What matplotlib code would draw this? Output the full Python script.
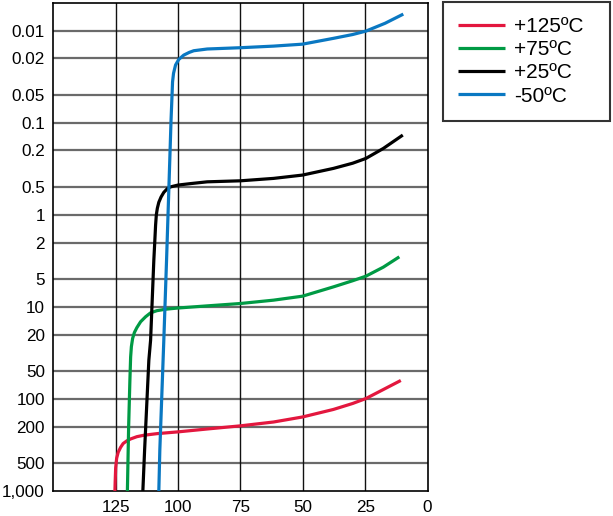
import matplotlib
matplotlib.use("Agg")
import matplotlib.pyplot as plt
from matplotlib.ticker import NullLocator

plt.rcParams['font.family'] = ['Liberation Sans', 'DejaVu Sans']

# ---- data (temperature in degC, value on log axis) ----
red_x = [125.3, 125.2, 125.0, 124.6, 124.0, 123.0, 122.0, 120.5, 119.0, 116.5, 113.7, 108.3, 100.1, 88.3, 75.0, 61.7, 50.1, 37.7, 30.0, 24.7, 17.7, 10.7]
red_y = [1000, 800, 560, 440, 380, 335, 305, 285, 272, 257, 248, 238, 228, 212, 196, 178, 157, 130, 112, 99, 79, 63]

green_x = [120.3, 119.8, 119.3, 119.0, 118.7, 118.2, 117.5, 116.5, 115.0, 113.0, 111.0, 108.5, 105.0, 100.3, 88.3, 75.0, 61.7, 50.1, 37.7, 30.0, 24.7, 17.7, 11.3]
green_y = [1000, 200, 63, 35, 27, 22, 19, 16.8, 14.5, 12.8, 11.6, 11.0, 10.6, 10.3, 9.75, 9.19, 8.45, 7.65, 6.06, 5.2, 4.64, 3.7, 2.86]

black_x = [114.1, 113.4, 111.7, 111.0, 109.7, 109.3, 109.0, 108.7, 108.3, 107.7, 106.8, 105.7, 104.3, 103.0, 100.0, 95.0, 88.3, 75.0, 61.7, 50.1, 37.7, 30.0, 24.7, 17.7, 9.9]
black_y = [1000, 360, 38, 23, 3.1, 1.9, 1.3, 1.0, 0.85, 0.73, 0.64, 0.57, 0.52, 0.497, 0.475, 0.458, 0.438, 0.427, 0.402, 0.370, 0.313, 0.275, 0.244, 0.19, 0.136]

blue_x = [107.7, 107.3, 105.7, 104.6, 103.3, 102.8, 102.4, 102.2, 101.8, 101.0, 99.7, 97.7, 95.5, 93.7, 88.3, 75.0, 61.7, 50.1, 37.7, 30.0, 24.7, 17.0, 9.7]
blue_y = [1000, 360, 23, 3.1, 0.25, 0.093, 0.05, 0.036, 0.029, 0.0236, 0.0205, 0.0184, 0.0172, 0.0165, 0.0158, 0.0153, 0.0147, 0.0140, 0.0121, 0.0110, 0.0101, 0.0083, 0.0066]

series_labels = ['+125ºC', '+75ºC', '+25ºC', '-50ºC']
series_colors = ['#E3173E', '#009A44', '#000000', '#0A78C2']

x_ticks = [125, 100, 75, 50, 25, 0]
y_ticks = [0.01, 0.02, 0.05, 0.1, 0.2, 0.5, 1, 2, 5, 10, 20, 50, 100, 200, 500, 1000]
y_tick_labels = ['0.01', '0.02', '0.05', '0.1', '0.2', '0.5', '1', '2', '5', '10', '20', '50', '100', '200', '500', '1,000']

W, H = 613, 516
fig = plt.figure(figsize=(W / 100, H / 100), dpi=100)
ax = fig.add_axes([53.3 / W, 1 - 491 / H, (427.5 - 53.3) / W, (491 - 3) / H])

ax.set_yscale('log')
ax.set_xlim(150, 0)
ax.set_ylim(1000, 0.005)

# grid
for yv in y_ticks[:-1]:
    ax.axhline(yv, color='#6a6a6a', lw=1.6, zorder=1)
for xv in x_ticks[:-1]:
    ax.axvline(xv, color='#111111', lw=1.0, zorder=1)

lines = []
for xs, ys, c, lab in zip([red_x, green_x, black_x, blue_x], [red_y, green_y, black_y, blue_y], series_colors, series_labels):
    ln, = ax.plot(xs, ys, color=c, lw=2.3, label=lab, zorder=3, solid_capstyle='butt', solid_joinstyle='round')
    lines.append(ln)

ax.set_xticks(x_ticks)
ax.set_xticklabels([str(v) for v in x_ticks])
ax.set_yticks(y_ticks)
ax.set_yticklabels(y_tick_labels)
ax.yaxis.set_minor_locator(NullLocator())
ax.tick_params(axis='both', length=0, labelsize=12.3, colors='black')
ax.tick_params(axis='y', pad=6.0)
ax.tick_params(axis='x', pad=6.5)
for s in ax.spines.values():
    s.set_color('black')
    s.set_linewidth(1.2)

leg = fig.legend(handles=lines, labels=series_labels, loc='upper left',
                 bbox_to_anchor=(443 / W, 1 - 122 / H, 167 / W, 120 / H), bbox_transform=fig.transFigure,
                 mode='expand',
                 borderaxespad=0, fontsize=15, frameon=True, fancybox=False,
                 handlelength=2.25, handletextpad=0.45, labelspacing=0.2,
                 borderpad=0.72)
frame = leg.get_frame()
frame.set_edgecolor('black')
frame.set_linewidth(1.5)
for t in leg.get_texts():
    t.set_color('black')

fig.savefig('out.png', dpi=100)
